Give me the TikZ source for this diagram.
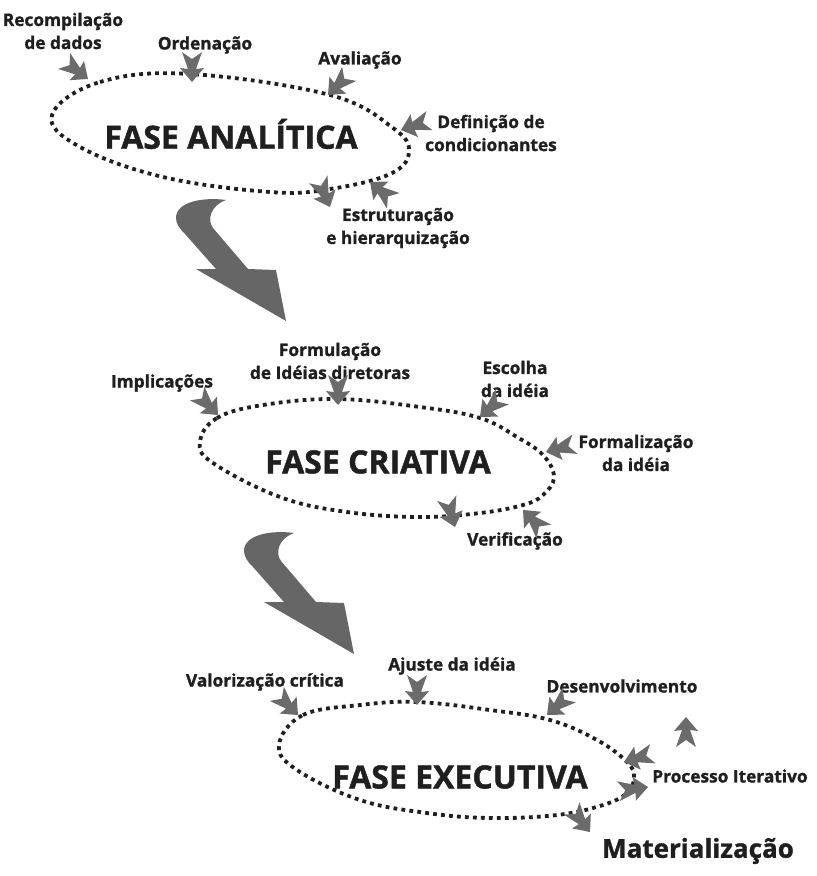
\documentclass[tikz,border=0pt]{standalone}
\usepackage{fontspec}
\setsansfont{Open Sans}[BoldFeatures={FakeBold=1.3}]

\begin{document}
\begin{tikzpicture}[
		x=1pt, y=-1pt,
		every node/.style={font=\sffamily\bfseries\fontsize{17.3}{23}\selectfont, align=center, inner sep=0pt, text=black!88},
		fase/.style={font=\sffamily\bfseries\fontsize{32}{36}\selectfont},
		loop/.style={draw=black!88, line width=3.8pt, dash pattern=on 3.8pt off 4.2pt},
		seta/.pic={\fill[black!58] (0,0) -- (-14,12) -- (-13,4) -- (-30,10) -- (-23,0) -- (-30,-10) -- (-13,-4) -- (-14,-12) -- cycle;},
		curva/.pic={\fill[black!60] (226,200) .. controls (205,197) and (176,201) .. (176,218)
			.. controls (176,224) and (180,229) .. (185,234) -- (216,269) -- (196,269) -- (286,321)
			-- (276,270) -- (248,269) -- (213,228) .. controls (207,220) and (210,206) .. (226,200) -- cycle;}
	]
  \useasboundingbox (0,0) rectangle (817,876);

  \draw[loop] plot[smooth cycle, tension=0.65] coordinates {(52,115) (100,82) (190,74) (330,95) (393,128) (409,152) (390,174) (330,189) (270,192) (163,177) (80,147)};
  \node (analitica) [fase] at (231,134) {FASE ANALÍTICA};
  \node (rec) at (63,31) {Recompilação\\de dados};
  \node (ord) at (205,45) {Ordenação};
  \node (ava) at (360,60) {Avaliação};
  \node (def) at (491,133) {Definição de\\condicionantes};
  \node (est) at (398,228) {Estruturação\\e hierarquização};
  \pic[rotate=-37] at (88,79) {seta};
  \pic[rotate=-90] at (192,82) {seta};
  \pic[rotate=-135] at (328,95) {seta};
  \pic[rotate=-162] at (401,130) {seta};
  \pic[rotate=-67] at (330,207) {seta};
  \pic[rotate=141] at (370,182) {seta};

  \pic at (0,0) {curva};

  \draw[loop] plot[smooth cycle, tension=0.65] coordinates {(200,442) (217,418) (263,405) (337,399) (420,407) (480,418) (517,437) (543,455) (554,477) (543,495) (523,505) (480,513) (420,517) (347,512) (280,497) (213,463)};
  \node (criativa) [fase] at (378,462) {FASE CRIATIVA};
  \node (imp) at (162,383) {Implicações};
  \node (form) at (330,361) {Formulação\\de Idéias diretoras};
  \node (esc) at (515,379) {Escolha\\da idéia};
  \node (fml) at (636,453) {Formalização\\da idéia};
  \node (ver) at (515,541) {Verificação};
  \pic[rotate=-46] at (218,415) {seta};
  \pic[rotate=-90] at (338,405) {seta};
  \pic[rotate=-138] at (480,417) {seta};
  \pic[rotate=-165] at (546,452) {seta};
  \pic[rotate=-74] at (455,527) {seta};
  \pic[rotate=134] at (523,510) {seta};

  \pic at (68,333) {curva};

  \draw[loop] plot[smooth cycle, tension=0.65] coordinates {(279,745) (303,715) (360,705) (417,702) (490,710) (550,720) (597,740) (627,762) (634,777) (627,793) (603,805) (557,815) (490,818) (427,813) (360,800) (297,770)};
  \node (executiva) [fase] at (460,777) {FASE EXECUTIVA};
  \node (val) at (265,682) {Valorização crítica};
  \node (aju) at (452,666) {Ajuste da idéia};
  \node (des) at (622,686) {Desenvolvimento};
  \node (pro) at (730,776) {Processo Iterativo};
  \node (mat) [font=\sffamily\bfseries\fontsize{26}{30}\selectfont] at (698,851) {Materialização};
  \pic[rotate=-45] at (298,715) {seta};
  \pic[rotate=-90] at (417,705) {seta};
  \pic[rotate=-138] at (547,715) {seta};
  \pic[rotate=90] at (686,717) {seta};
  \pic[rotate=-164] at (624,762) {seta};
  \pic[rotate=8] at (648,787) {seta};
  \pic[rotate=-52] at (590,832) {seta};
\end{tikzpicture}
\end{document}
